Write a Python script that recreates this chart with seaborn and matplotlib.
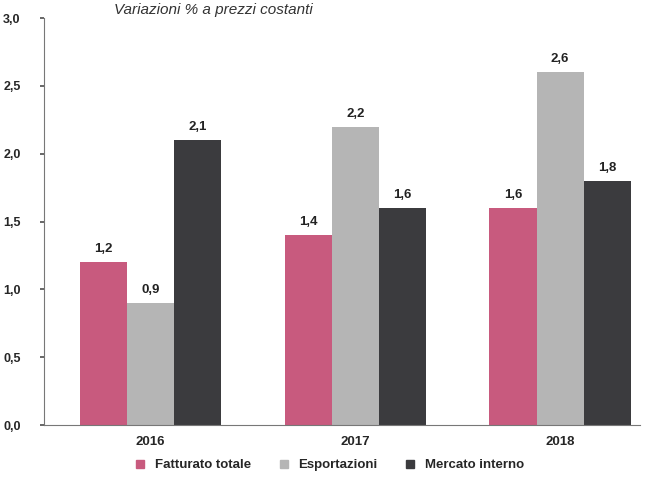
import matplotlib
matplotlib.use("Agg")
import matplotlib.pyplot as plt
import seaborn as sns
import pandas as pd

years = ["2016", "2017", "2018"]
series = ["Fatturato totale", "Esportazioni", "Mercato interno"]
fatturato = [1.2, 1.4, 1.6]
esportazioni = [0.9, 2.2, 2.6]
mercato = [2.1, 1.6, 1.8]
colors = ["#C85A7E", "#B5B5B5", "#3B3B3E"]
yticks = [0.0, 0.5, 1.0, 1.5, 2.0, 2.5, 3.0]

sns.set_theme(style="white")
plt.rcParams["font.family"] = ["Liberation Sans", "DejaVu Sans"]

rows = []
for s, vals in zip(series, [fatturato, esportazioni, mercato]):
    for y, v in zip(years, vals):
        rows.append({"Anno": y, "Serie": s, "Valore": v})
df = pd.DataFrame(rows)

fig = plt.figure(figsize=(6.51, 4.87), dpi=100)
ax = fig.add_axes([0.068, 0.127, 0.915, 0.836])
sns.barplot(data=df, x="Anno", y="Valore", hue="Serie", hue_order=series,
            palette=colors, width=0.69, saturation=1, ax=ax, legend=False,
            linewidth=0)

for cont in ax.containers:
    ax.bar_label(cont, labels=[f"{b.get_height():.1f}".replace(".", ",") for b in cont],
                 padding=5, fontsize=9.5, fontweight="bold", color="#222222")

ax.set_ylim(0, 3.0)
ax.set_xlim(-0.52, 2.39)
ax.set_yticks(yticks)
ax.set_yticklabels([f"{t:.1f}".replace(".", ",") for t in yticks], fontsize=9, fontweight="bold")
ax.tick_params(axis="y", length=3, color="#555555", direction="out", left=True, pad=14)
ax.tick_params(axis="x", length=0, pad=8, labelsize=9.5)
for lab in ax.get_xticklabels():
    lab.set_fontweight("bold")
ax.set_xlabel("")
ax.set_ylabel("")
for sp in ["top", "right"]:
    ax.spines[sp].set_visible(False)
for sp in ["left", "bottom"]:
    ax.spines[sp].set_color("#777777")
    ax.spines[sp].set_linewidth(0.8)

handles = [plt.Line2D([], [], marker="s", linestyle="", color=c, markersize=5.5) for c in colors]
fig.legend(handles, series, loc="lower center", bbox_to_anchor=(0.5, 0.008), ncol=3,
           frameon=False, prop={"weight": "bold", "size": 9.5}, handletextpad=0.1,
           columnspacing=1.5)

fig.text(0.48, 0.993, "Variazioni % a prezzi costanti", ha="right", va="top",
         fontsize=11, style="italic", color="#333333")

fig.savefig("out.png", dpi=100)
